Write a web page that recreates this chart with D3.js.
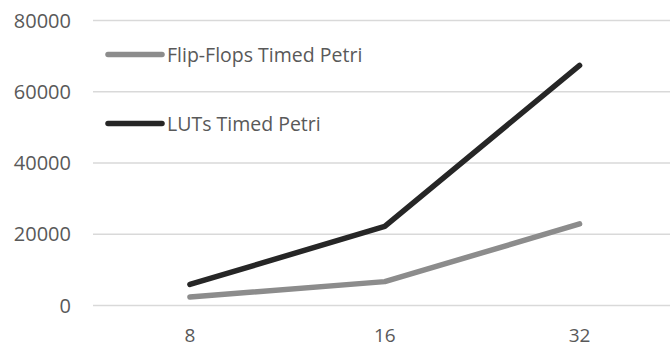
<!DOCTYPE html>
<html><head><meta charset="utf-8">
<script src="https://cdn.jsdelivr.net/npm/d3@7"></script>
<style>body{margin:0;background:#fff}svg{display:block}</style>
</head><body>
<svg id="c" width="670" height="349"></svg>
<script>
const categories = ["8", "16", "32"];
const seriesNames = ["Flip-Flops Timed Petri", "LUTs Timed Petri"];
const flipFlops = [2400, 6700, 22900];
const luts = [5900, 22200, 67400];
const yTicks = [0, 20000, 40000, 60000, 80000];
const colors = ["#8c8c8c", "#262626"];

const svg = d3.select("#c");
const pL = 93, pR = 670, pT = 20.5, pB = 305.5;
const x = d3.scaleBand().domain(categories).range([pL - 0.5, 677]);
const y = d3.scaleLinear().domain([0, 80000]).range([pB, pT]);
const font = "'Open Sans', sans-serif";

svg.append("g").selectAll("line").data(yTicks).join("line")
  .attr("x1", pL).attr("x2", pR)
  .attr("y1", d => y(d)).attr("y2", d => y(d))
  .attr("stroke", "#d9d9d9").attr("stroke-width", 1.4);

svg.append("g").selectAll("text").data(yTicks).join("text")
  .attr("x", 71).attr("y", d => y(d) + 7)
  .attr("text-anchor", "end").attr("font-family", font).attr("font-size", 20)
  .attr("fill", "#595959").text(d => d);

svg.append("g").selectAll("text").data(categories).join("text")
  .attr("x", d => x(d) + x.bandwidth() / 2).attr("y", 342)
  .attr("text-anchor", "middle").attr("font-family", font).attr("font-size", 19)
  .attr("fill", "#595959").text(d => d);

const line = d3.line().x((d, i) => x(categories[i]) + x.bandwidth() / 2).y(d => y(d));
[flipFlops, luts].forEach((s, k) => {
  svg.append("path").datum(s).attr("d", line)
    .attr("fill", "none").attr("stroke", colors[k]).attr("stroke-width", 5.5)
    .attr("stroke-linecap", "round").attr("stroke-linejoin", "round");
});

const legY = [54.5, 123.5];
seriesNames.forEach((n, k) => {
  svg.append("line").attr("x1", 108).attr("x2", 162).attr("y1", legY[k]).attr("y2", legY[k])
    .attr("stroke", colors[k]).attr("stroke-width", 5.5).attr("stroke-linecap", "round");
  svg.append("text").attr("x", 167).attr("y", legY[k] + 7)
    .attr("font-family", font).attr("font-size", 19.5).attr("fill", "#595959").text(n);
});
</script>
</body></html>
